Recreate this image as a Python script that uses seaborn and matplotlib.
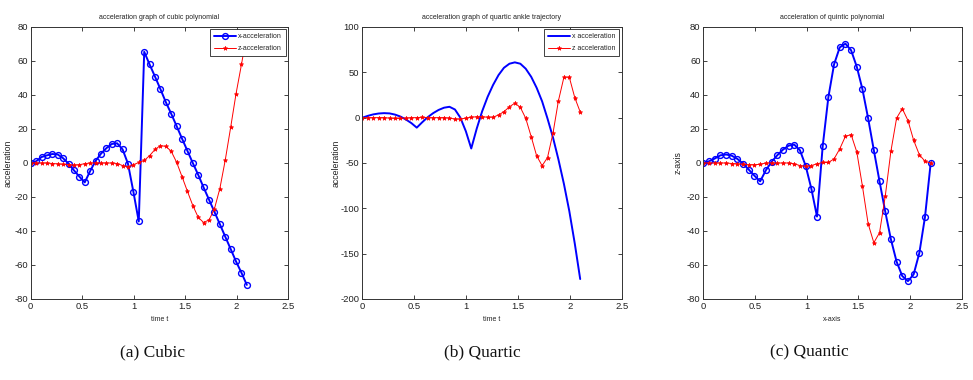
import numpy as np
import pandas as pd
import matplotlib
matplotlib.use("Agg")
import matplotlib.pyplot as plt
import seaborn as sns
from matplotlib import font_manager

# ---------------- data ----------------
t_a = [0.0, 0.053, 0.105, 0.158, 0.21, 0.263, 0.315, 0.368, 0.42, 0.473, 0.525,
       0.578, 0.63, 0.683, 0.735, 0.788, 0.84, 0.893, 0.945, 0.998, 1.05,
       1.103, 1.155, 1.208, 1.26, 1.313, 1.365, 1.418, 1.47, 1.523, 1.575,
       1.628, 1.68, 1.733, 1.785, 1.838, 1.89, 1.943, 1.995, 2.048, 2.1]

cubic_x = [0, 1, 3.5, 4.5, 5.3, 5, 2.8, -0.4, -4.3, -8, -11.4,
           -4.7, 1.2, 5.5, 8.7, 11.2, 11.6, 8, -0.4, -17, -34.4,
           65.4, 58, 50.8, 43.5, 35.8, 29, 21.7, 14.4, 7.1, 0,
           -7, -14.4, -21.6, -28.7, -36, -43.3, -50.6, -57.9, -64.6, -71.7]
cubic_z = [0, 0, 0, 0, -0.3, -0.5, -0.8, -1, -1.2, -1, -0.4,
           0, 0, 0, 0, 0, -0.3, -1.5, -2.2, -1, 0.3,
           1.5, 4.3, 8, 10.2, 9.8, 6.9, 0.4, -8, -16.7, -25,
           -32, -35, -33.5, -27, -15, 1.6, 21, 40.7, 58, 76]

quartic_x = [0, 2, 3.6, 4.6, 5, 4.7, 3.4, 1.2, -2, -6, -11,
             -5, 0.5, 5, 8.5, 11, 12, 9, 0, -15, -34,
             -12, 7, 23, 36, 47, 55, 59.5, 61, 59.5, 54,
             45, 33, 18, -1, -22, -46, -73, -103, -139, -178]
quartic_z = [0, 0, 0, 0, 0, -0.5, -0.8, -0.8, -0.5, 0, 0,
             0.5, 0, 0, 0, 0, -0.5, -1.5, -1.5, -0.5, 0.5,
             1, 1, 0.5, 0.5, 3, 6.6, 12, 16, 11.4, -0.7,
             -21, -42, -53, -44, -17, 18.5, 44.6, 44.6, 22, 6.3]

t_c = [0.0, 0.055, 0.11, 0.165, 0.22, 0.275, 0.33, 0.385, 0.44, 0.495, 0.55,
       0.605, 0.66, 0.715, 0.77, 0.825, 0.88, 0.935, 0.99, 1.045, 1.1,
       1.155, 1.21, 1.265, 1.32, 1.375, 1.43, 1.485, 1.54, 1.595, 1.65,
       1.705, 1.76, 1.815, 1.87, 1.925, 1.98, 2.035, 2.09, 2.145, 2.2]
quintic_x = [0, 1, 2.6, 4.5, 5, 4.3, 2.4, -0.4, -3.9, -7.5, -10.8,
             -4.3, 0.6, 4.5, 7.8, 10.2, 10.8, 7.5, -1.6, -15, -31.5,
             9.8, 38.7, 58, 68, 70.2, 66.3, 56.6, 43.3, 26.2, 7.5,
             -10.8, -28.5, -44.9, -58, -66.5, -69.5, -65.5, -53, -31.7, 0]
quintic_z = [0, 0, 0, 0, 0, -0.3, -0.5, -0.8, -1, -1, -0.8,
             0, 0, 0, 0, 0, -0.5, -1.5, -2, -1.5, -0.5,
             0.3, 0.3, 2.4, 8.3, 15.7, 16.7, 6.5, -13.8, -35.8, -46.9,
             -41, -19.7, 6.9, 26.4, 32, 25, 13.4, 4.9, 1, 0]

titles = ["acceleration graph of cubic polynomial",
          "acceleration graph of quartic ankle trajectory",
          "acceleration of quintic polynomial"]
ylabels = ["acceleration", "acceleration", "z-axis"]
xlabels = ["time t", "time t", "x-axis"]
captions = ["(a) Cubic", "(b) Quartic", "(c) Quantic"]
legend_a = ["x-acceleration", "z-acceleration"]
legend_b = ["x acceleration", "z acceleration"]
xticks = [0, 0.5, 1, 1.5, 2, 2.5]
yticks_a = [-80, -60, -40, -20, 0, 20, 40, 60, 80]
yticks_b = [-200, -150, -100, -50, 0, 50, 100]

# ---------------- style ----------------
sns.set_style("ticks")
names = {f.name for f in font_manager.fontManager.ttflist}
base = "Liberation Sans Narrow" if "Liberation Sans Narrow" in names else "Liberation Sans"
plt.rcParams["font.family"] = [base, "DejaVu Sans"]

W, H = 973, 380
fig = plt.figure(figsize=(W / 100, H / 100), dpi=100)

def frac(l, r, top, bot):
    return [l / W, 1 - bot / H, (r - l) / W, (bot - top) / H]

rects = [frac(30.7, 288, 27, 299), frac(362.3, 621.7, 27, 299), frac(703.3, 961.7, 27, 299)]
axes = [fig.add_axes(r) for r in rects]

BLUE = (0, 0, 1)
RED = (1, 0, 0)

def draw(ax, t, xs, zs, blue_marker, names_leg):
    df = pd.DataFrame({"t": t, "x": xs, "z": zs})
    if blue_marker:
        sns.lineplot(data=df, x="t", y="x", ax=ax, color=BLUE, lw=1.4,
                     marker="o", markersize=4.2, markerfacecolor="none",
                     markeredgecolor=BLUE, markeredgewidth=1.0,
                     label=names_leg[0] if names_leg else None, sort=False)
    else:
        sns.lineplot(data=df, x="t", y="x", ax=ax, color=BLUE, lw=1.4,
                     label=names_leg[0] if names_leg else None, sort=False)
    sns.lineplot(data=df, x="t", y="z", ax=ax, color=RED, lw=0.7,
                 marker="*", markersize=3.2, markeredgecolor=RED,
                 markerfacecolor=RED, markeredgewidth=0.5,
                 label=names_leg[1] if names_leg else None, sort=False)

draw(axes[0], t_a, cubic_x, cubic_z, True, legend_a)
draw(axes[1], t_a, quartic_x, quartic_z, False, legend_b)
draw(axes[2], t_c, quintic_x, quintic_z, True, None)

ylims = [(-80, 80), (-200, 100), (-80, 80)]
yt = [yticks_a, yticks_b, yticks_a]
ylab_x = [-0.072, -0.082, -0.081]
for i, ax in enumerate(axes):
    ax.set_xlim(0, 2.5)
    ax.set_ylim(*ylims[i])
    ax.set_xticks(xticks)
    ax.set_xticklabels([f"{v:g}" for v in xticks])
    ax.set_yticks(yt[i])
    ax.set_yticklabels([f"{v:g}" for v in yt[i]])
    ax.tick_params(direction="in", length=3, width=0.6, labelsize=6.8,
                   top=True, right=True, colors="#222222", pad=2)
    for s in ax.spines.values():
        s.set_visible(True)
        s.set_linewidth(0.7)
        s.set_color("#333333")
    ax.set_title(titles[i], fontsize=5, pad=6, color="#222222")
    ax.set_xlabel(xlabels[i], fontsize=5, labelpad=4, color="#222222")
    ax.set_ylabel(ylabels[i], fontsize=6.3, color="#222222")
    ax.yaxis.set_label_coords(ylab_x[i], 0.5)
    ax.grid(False)
    leg = ax.get_legend()
    if leg is not None:
        leg.remove()

for ax in axes[:2]:
    leg = ax.legend(loc="upper right", fontsize=5, frameon=True, fancybox=False,
                    edgecolor="#222222", framealpha=1, borderaxespad=0.35,
                    handlelength=3.2, handletextpad=0.3, borderpad=0.55,
                    labelspacing=0.7)
    leg.get_frame().set_linewidth(0.6)
    leg.set_zorder(10)

cap_x = [152, 482, 809]
for cx, c in zip(cap_x, captions):
    fig.text(cx / W, 1 - 352 / H, c, ha="center", va="center", fontsize=12.5,
             family=["Liberation Serif", "DejaVu Serif"], color="#111111")

fig.savefig("out.png", dpi=100)
